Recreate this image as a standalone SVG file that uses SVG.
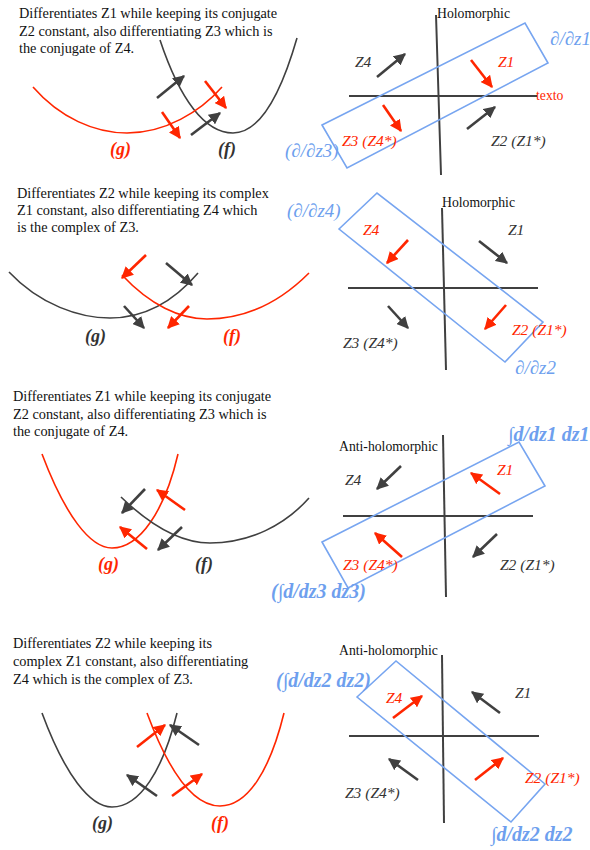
<svg xmlns="http://www.w3.org/2000/svg" width="590" height="850" viewBox="0 0 590 850">
<style>
.desc{font-family:"Liberation Serif","Times New Roman",serif;font-size:14.3px;fill:#111}
.hol{font-family:"Liberation Serif","Times New Roman",serif;font-size:13.7px;fill:#111}
.z{font-family:"Liberation Serif","Times New Roman",serif;font-size:15.5px;font-style:italic}
.fg{font-family:"Liberation Serif","Times New Roman",serif;font-size:18px;font-style:italic;font-weight:bold}
.bl{font-family:"Liberation Serif","Times New Roman",serif;font-size:19px;font-style:italic;fill:#6E9FEE}
.blb{font-family:"Liberation Serif","Times New Roman",serif;font-size:20px;font-style:italic;font-weight:bold;fill:#6E9FEE}
.red{fill:#FF2600}
.dk{fill:#333}
.cr{fill:none;stroke:#FF2600;stroke-width:1.6}
.cd{fill:none;stroke:#404040;stroke-width:1.6}
.ax{stroke:#404040;stroke-width:2}
.box{fill:none;stroke:#77A5F0;stroke-width:1.6}
.ar{stroke:#FF2600;stroke-width:2.6;marker-end:url(#ahr)}
.ad{stroke:#404040;stroke-width:2.6;marker-end:url(#ahd)}
</style>
<defs>
<marker id="ahr" viewBox="0 0 10 10" refX="9" refY="5" markerWidth="12" markerHeight="12" markerUnits="userSpaceOnUse" orient="auto"><path d="M0,0 L10,5 L0,10 z" fill="#FF2600"/></marker>
<marker id="ahd" viewBox="0 0 10 10" refX="9" refY="5" markerWidth="12" markerHeight="12" markerUnits="userSpaceOnUse" orient="auto"><path d="M0,0 L10,5 L0,10 z" fill="#404040"/></marker>
</defs>
<rect width="590" height="850" fill="#fff"/>

<!-- Panel 1 -->
<g id="panel1-text">
<text class="desc" x="19" y="18">Differentiates Z1 while keeping its conjugate</text>
<text class="desc" x="19" y="35.5">Z2 constant, also differentiating Z3 which is</text>
<text class="desc" x="19" y="53">the conjugate of Z4.</text>
</g>
<g id="panel1-curves">
<path class="cd" d="M160,40 C180,100 205,133 233,133 C262,133 282,90 297,38"/>
<path class="cr" d="M33,87 C60,118 95,133 127,133 C165,133 200,112 222,87"/>
<text class="fg red" x="110" y="155">(g)</text>
<text class="fg dk" x="218" y="155">(f)</text>
</g>
<g id="panel1-plane">
<line class="ax" x1="436" y1="15" x2="441" y2="175"/>
<line class="ax" x1="349" y1="96" x2="537" y2="96"/>
<text class="hol" x="437" y="18">Holomorphic</text>
<text class="hol red" x="536" y="100">texto</text>
<polygon class="box" points="322,125 525,23 548,63 347,168"/>
<text class="bl" x="550" y="45">∂/∂z1</text>
<text class="bl" x="285" y="157">(∂/∂z3)</text>
<text class="z dk" x="355" y="67">Z4</text>
<text class="z red" x="498" y="67">Z1</text>
<text class="z red" x="342" y="146">Z3 (Z4*)</text>
<text class="z dk" x="491" y="146">Z2 (Z1*)</text>
</g>
<g id="panel1-arrows">
<line class="ad" x1="157" y1="98" x2="184" y2="76"/>
<line class="ad" x1="191" y1="135" x2="220" y2="113"/>
<line class="ar" x1="205" y1="81" x2="226" y2="108"/>
<line class="ar" x1="162" y1="112" x2="180" y2="138"/>
<line class="ad" x1="377" y1="77" x2="405" y2="54"/>
<line class="ar" x1="471" y1="60" x2="492" y2="87"/>
<line class="ar" x1="383" y1="105" x2="401" y2="131"/>
<line class="ad" x1="467" y1="129" x2="495" y2="107"/>
</g>

<!-- Panel 2 -->
<g id="panel2-text">
<text class="desc" x="17" y="198">Differentiates Z2 while keeping its complex</text>
<text class="desc" x="17" y="215">Z1 constant, also differentiating Z4 which</text>
<text class="desc" x="17" y="232">is the complex of Z3.</text>
</g>
<g id="panel2-curves">
<path class="cd" d="M9,272 C40,305 80,318 110,318 C145,318 175,300 198,273"/>
<path class="cr" d="M122,275 C150,305 180,319 207,319 C245,319 280,302 309,273"/>
<text class="fg dk" x="85" y="342">(g)</text>
<text class="fg red" x="223" y="342">(f)</text>
</g>
<g id="panel2-plane">
<line class="ax" x1="442" y1="208" x2="446" y2="370"/>
<line class="ax" x1="348" y1="288" x2="538" y2="288"/>
<text class="hol" x="442" y="207">Holomorphic</text>
<polygon class="box" points="339,229 377,193 543,322 505,362"/>
<text class="bl" x="287" y="217">(∂/∂z4)</text>
<text class="bl" x="515" y="374">∂/∂z2</text>
<text class="z red" x="363" y="235">Z4</text>
<text class="z dk" x="508" y="235">Z1</text>
<text class="z dk" x="343" y="348">Z3 (Z4*)</text>
<text class="z red" x="512" y="335">Z2 (Z1*)</text>
</g>
<g id="panel2-arrows">
<line class="ar" x1="146" y1="255" x2="122" y2="278"/>
<line class="ad" x1="166" y1="263" x2="192" y2="285"/>
<line class="ad" x1="124" y1="306" x2="144" y2="328"/>
<line class="ar" x1="189" y1="306" x2="168" y2="328"/>
<line class="ar" x1="408" y1="240" x2="387" y2="263"/>
<line class="ad" x1="479" y1="241" x2="507" y2="263"/>
<line class="ad" x1="388" y1="306" x2="408" y2="328"/>
<line class="ar" x1="506" y1="305" x2="485" y2="329"/>
</g>

<!-- Panel 3 -->
<g id="panel3-text">
<text class="desc" x="13" y="401">Differentiates Z1 while keeping its conjugate</text>
<text class="desc" x="13" y="418.5">Z2 constant, also differentiating Z3 which is</text>
<text class="desc" x="13" y="436">the conjugate of Z4.</text>
</g>
<g id="panel3-curves">
<path class="cr" d="M42,454 C65,515 90,548 112,548 C140,548 165,510 178,454"/>
<path class="cd" d="M121,497 C150,525 180,543 210,543 C250,543 285,525 309,498"/>
<text class="fg red" x="98" y="570">(g)</text>
<text class="fg dk" x="195" y="570">(f)</text>
</g>
<g id="panel3-plane">
<line class="ax" x1="443" y1="435" x2="446" y2="597"/>
<line class="ax" x1="343" y1="516" x2="533" y2="516"/>
<text class="hol" x="339" y="451">Anti-holomorphic</text>
<polygon class="box" points="322,542 519,442 545,486 348,588"/>
<text class="blb" x="508" y="441">∫d/dz1 dz1</text>
<text class="blb" x="271" y="598">(∫d/dz3 dz3)</text>
<text class="z dk" x="345" y="485">Z4</text>
<text class="z red" x="497" y="475">Z1</text>
<text class="z red" x="343" y="570">Z3 (Z4*)</text>
<text class="z dk" x="500" y="570">Z2 (Z1*)</text>
</g>
<g id="panel3-arrows">
<line class="ad" x1="145" y1="489" x2="122" y2="513"/>
<line class="ar" x1="185" y1="510" x2="157" y2="490"/>
<line class="ar" x1="147" y1="549" x2="120" y2="527"/>
<line class="ad" x1="182" y1="527" x2="158" y2="550"/>
<line class="ad" x1="401" y1="466" x2="377" y2="489"/>
<line class="ar" x1="500" y1="494" x2="471" y2="473"/>
<line class="ar" x1="402" y1="557" x2="375" y2="533"/>
<line class="ad" x1="497" y1="534" x2="473" y2="557"/>
</g>

<!-- Panel 4 -->
<g id="panel4-text">
<text class="desc" x="13" y="648">Differentiates Z2 while keeping its</text>
<text class="desc" x="13" y="666">complex Z1 constant, also differentiating</text>
<text class="desc" x="13" y="684">Z4 which is the complex of Z3.</text>
</g>
<g id="panel4-curves">
<path class="cd" d="M42,713 C65,775 90,807 112,807 C140,807 163,770 177,713"/>
<path class="cr" d="M147,713 C170,775 195,806 220,806 C248,806 270,770 284,713"/>
<text class="fg dk" x="92" y="829">(g)</text>
<text class="fg red" x="211" y="829">(f)</text>
</g>
<g id="panel4-plane">
<line class="ax" x1="442" y1="655" x2="444" y2="823"/>
<line class="ax" x1="349" y1="736" x2="539" y2="736"/>
<text class="hol" x="339" y="655">Anti-holomorphic</text>
<polygon class="box" points="357,697 396,661 545,784 511,822"/>
<text class="blb" x="276" y="687">(∫d/dz2 dz2)</text>
<text class="blb" x="491" y="841">∫d/dz2 dz2</text>
<text class="z red" x="386" y="703">Z4</text>
<text class="z dk" x="515" y="698">Z1</text>
<text class="z dk" x="345" y="798">Z3 (Z4*)</text>
<text class="z red" x="525" y="783">Z2 (Z1*)</text>
</g>
<g id="panel4-arrows">
<line class="ar" x1="137" y1="747" x2="165" y2="725"/>
<line class="ad" x1="199" y1="745" x2="170" y2="725"/>
<line class="ad" x1="157" y1="796" x2="127" y2="775"/>
<line class="ar" x1="172" y1="796" x2="202" y2="774"/>
<line class="ar" x1="393" y1="718" x2="422" y2="696"/>
<line class="ad" x1="500" y1="713" x2="472" y2="692"/>
<line class="ad" x1="418" y1="780" x2="389" y2="759"/>
<line class="ar" x1="475" y1="780" x2="503" y2="758"/>
</g>
</svg>
